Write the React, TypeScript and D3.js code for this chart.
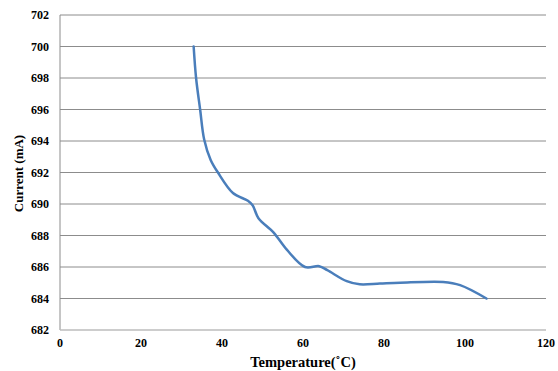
import React from 'react';
import * as d3 from 'd3';

// values
const temperature = [33, 33.6, 34.6, 35.6, 37.2, 39, 42.7, 46.4, 47.6, 49, 52.7, 56, 60.5, 64, 66, 70.8, 74, 79, 84, 94.6, 98.8, 105.3];
const current = [700, 698, 696, 694.1, 692.8, 692, 690.7, 690.2, 689.9, 689.1, 688.2, 687.1, 686, 686.05, 685.8, 685.1, 684.9, 684.95, 685.0, 685.05, 684.85, 684.0];
const xTicks = [0, 20, 40, 60, 80, 100, 120];
const yTicks = [682, 684, 686, 688, 690, 692, 694, 696, 698, 700, 702];

const W = 558;
const H = 371;
const margin = { top: 15, right: 12, bottom: 41, left: 60 };

const font = '"Liberation Serif", "Times New Roman", serif';

export default function App() {
  const innerW = W - margin.left - margin.right;
  const innerH = H - margin.top - margin.bottom;

  const x = d3.scaleLinear().domain([0, 120]).range([0, innerW]);
  const y = d3.scaleLinear().domain([682, 702]).range([innerH, 0]);

  const points = temperature.map((t, i) => [t, current[i]] as [number, number]);
  const line = d3.line<[number, number]>()
    .x(d => x(d[0]))
    .y(d => y(d[1]))
    .curve(d3.curveCatmullRom.alpha(0.5));

  return (
    <svg width={W} height={H} style={{ position: 'absolute', left: 0, top: 0, background: '#fff' }}>
      <g transform={`translate(${margin.left},${margin.top})`}>
        {/* horizontal grid */}
        {yTicks.slice(1).map(t => (
          <line key={t} x1={0} x2={innerW} y1={y(t)} y2={y(t)} stroke="#8c8c8c" strokeWidth={1} />
        ))}
        {/* axes */}
        <line x1={0} x2={0} y1={0} y2={innerH} stroke="#8c8c8c" strokeWidth={1} />
        <line x1={0} x2={innerW} y1={innerH} y2={innerH} stroke="#bdbdbd" strokeWidth={1.5} />

        {yTicks.map(t => (
          <text key={t} x={-11} y={y(t)} dy="0.35em" textAnchor="end"
            fontFamily={font} fontWeight="bold" fontSize={12} fill="#000">{t}</text>
        ))}
        {xTicks.map(t => (
          <text key={t} x={x(t)} y={innerH + 13} dy="0.35em" textAnchor="middle"
            fontFamily={font} fontWeight="bold" fontSize={12} fill="#000">{t}</text>
        ))}

        <path d={line(points) || ''} fill="none" stroke="#4a7ebb" strokeWidth={2.5} strokeLinecap="round" />

        <text x={innerW / 2} y={innerH + 32} dy="0.35em" textAnchor="middle"
          fontFamily={font} fontWeight="bold" fontSize={14.5} fill="#000">Temperature(˚C)</text>
        <text transform={`translate(${-42},${innerH / 2 + 1}) rotate(-90)`} dy="0.35em" textAnchor="middle"
          fontFamily={font} fontWeight="bold" fontSize={13} fill="#000">Current (mA)</text>
      </g>
    </svg>
  );
}
